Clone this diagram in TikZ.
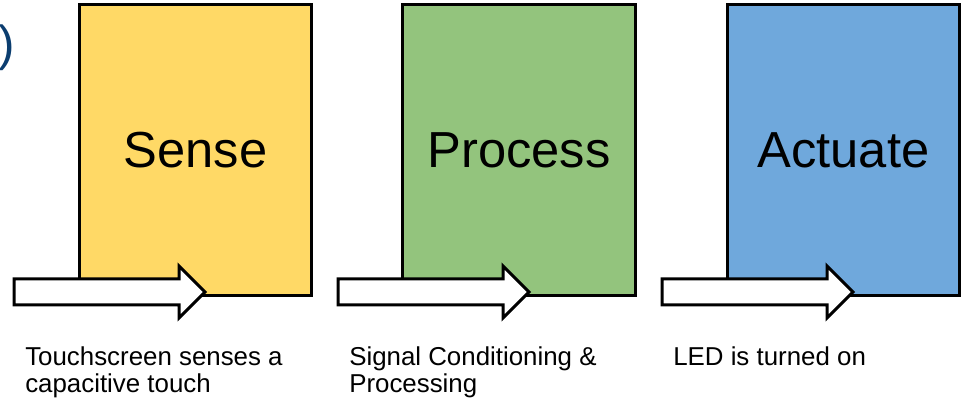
\documentclass[tikz,border=0pt]{standalone}
\usepackage{fontspec}
\setmainfont{Liberation Sans}
\usepackage{xcolor}
\usepackage{tikz}
\usetikzlibrary{positioning}
\definecolor{senseyellow}{HTML}{FFD966}
\definecolor{processgreen}{HTML}{93C47D}
\definecolor{actuateblue}{HTML}{6FA8DC}
\definecolor{capblue}{HTML}{0B3D6F}

\begin{document}
\begin{tikzpicture}[x=0.75pt, y=-0.75pt,
  stage/.style={rectangle, draw=black, line width=2.25pt,
                minimum width=174.5pt, minimum height=218.25pt, inner sep=0pt,
                font=\fontsize{38}{44}\selectfont},
  flow/.style={draw=black, fill=white, line width=2.25pt, line join=miter},
  lbl/.style={anchor=north west, inner sep=0pt, align=left,
              font=\fontsize{19.4}{20.6}\selectfont}
]
\useasboundingbox (0,0) rectangle (966,402);
\node[text=capblue, inner sep=0pt, font=\fontsize{37}{44}\selectfont] (paren) at (7,48) {)};
\node[stage, fill=senseyellow]  (S) at (195.5,150.5) {Sense};
\node[stage, fill=processgreen] (P) at (519,150.5)   {Process};
\node[stage, fill=actuateblue]  (A) at (843.5,150.5) {Actuate};
% block arrows
\draw[flow] (14,279) -- (179,279) -- (179,266) -- (205,292) -- (179,318) -- (179,305) -- (14,305) -- cycle;
\draw[flow] (338,279) -- (503,279) -- (503,266) -- (529,292) -- (503,318) -- (503,305) -- (338,305) -- cycle;
\draw[flow] (662,279) -- (827,279) -- (827,266) -- (853,292) -- (827,318) -- (827,305) -- (662,305) -- cycle;
\node[lbl] (lS) at (25,346)  {Touchscreen senses a\\capacitive touch};
\node[lbl] (lP) at (349,346) {Signal Conditioning \&\\Processing};
\node[lbl] (lA) at (673,346) {LED is turned on};
\end{tikzpicture}
\end{document}
